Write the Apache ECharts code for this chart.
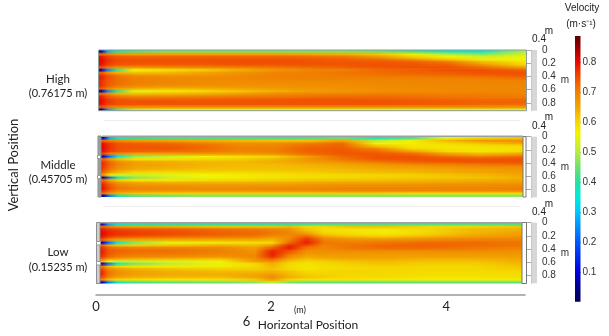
<!DOCTYPE html>
<html><head><meta charset="utf-8">
<style>html,body{margin:0;padding:0;background:#fff}#c{width:609px;height:336px}</style>
<script src="https://cdn.jsdelivr.net/npm/echarts@6/dist/echarts.min.js"></script>
</head><body><div id="c"></div>
<script>
const rowDepths=[.02,.06,.10,.14,.18,.22,.26,.30,.34,.38,.42,.46,.50,.54,.58,.62,.66,.70,.74,.78,.82,.86,.90];
const highStops=[0,.03,.1,.2,.4,.8,1.2,1.6,2,2.4,2.8,3.2,3.6,4,4.4,4.9];
const middleStops=highStops;
const lowStops=[0,.03,.1,.2,.4,.8,1.4,1.8,2,2.2,2.4,2.6,2.9,3.3,3.8,4.3,4.9];
const highRows=[
[.06,.08,.28,.38,.43,.46,.46,.46,.46,.46,.46,.45,.42,.36,.36,.50],
[.70,.72,.70,.67,.66,.66,.66,.66,.66,.65,.64,.62,.57,.50,.47,.53],
[.80,.79,.76,.74,.73,.73,.73,.73,.73,.72,.71,.67,.61,.56,.52,.55],
[.81,.80,.77,.75,.745,.745,.745,.745,.745,.74,.735,.72,.68,.62,.57,.56],
[.81,.80,.77,.75,.745,.745,.745,.75,.75,.745,.74,.74,.735,.71,.63,.58],
[.80,.79,.76,.74,.735,.735,.735,.74,.74,.74,.74,.745,.74,.73,.67,.60],
[.74,.75,.71,.68,.67,.68,.69,.70,.71,.72,.73,.74,.745,.745,.72,.66],
[.03,.08,.24,.40,.56,.59,.61,.64,.67,.69,.70,.72,.73,.745,.745,.73],
[.72,.74,.68,.64,.62,.63,.65,.67,.69,.70,.71,.72,.73,.735,.745,.745],
[.78,.77,.74,.71,.68,.67,.67,.685,.70,.70,.705,.71,.715,.72,.73,.74],
[.79,.78,.75,.72,.70,.69,.69,.69,.695,.70,.70,.70,.70,.70,.705,.72],
[.78,.77,.74,.72,.70,.69,.685,.685,.69,.69,.69,.69,.69,.695,.695,.70],
[.78,.77,.74,.72,.70,.69,.685,.68,.68,.68,.685,.69,.69,.69,.69,.695],
[.78,.77,.74,.71,.69,.68,.675,.675,.675,.68,.68,.685,.69,.69,.69,.69],
[.72,.74,.69,.66,.64,.63,.64,.65,.66,.67,.675,.68,.685,.69,.69,.69],
[.03,.08,.24,.40,.54,.58,.60,.62,.64,.66,.67,.68,.68,.685,.69,.69],
[.70,.72,.68,.64,.62,.63,.64,.66,.68,.69,.695,.70,.70,.70,.70,.695],
[.79,.78,.74,.71,.69,.69,.70,.705,.71,.715,.72,.72,.715,.71,.71,.705],
[.80,.79,.76,.74,.73,.73,.73,.735,.735,.74,.74,.735,.73,.725,.72,.72],
[.81,.80,.77,.75,.745,.745,.745,.745,.745,.745,.745,.745,.74,.735,.73,.73],
[.80,.79,.76,.745,.74,.74,.74,.74,.74,.74,.74,.74,.735,.73,.72,.72],
[.72,.74,.71,.69,.68,.68,.68,.68,.68,.68,.68,.68,.68,.68,.68,.67],
[.05,.08,.26,.42,.50,.53,.53,.53,.53,.53,.53,.53,.53,.53,.53,.53]];
const middleRows=[
[.06,.08,.28,.36,.40,.42,.42,.42,.42,.42,.44,.38,.42,.55,.60,.62],
[.70,.72,.70,.68,.66,.65,.64,.63,.62,.62,.65,.50,.55,.63,.67,.68],
[.80,.79,.76,.74,.73,.72,.70,.68,.68,.70,.72,.56,.57,.60,.62,.65],
[.81,.80,.77,.745,.74,.735,.72,.69,.69,.72,.73,.62,.58,.58,.59,.60],
[.81,.80,.77,.745,.74,.74,.72,.70,.70,.73,.735,.69,.60,.585,.58,.59],
[.80,.79,.76,.74,.73,.72,.71,.69,.70,.73,.74,.72,.66,.60,.58,.60],
[.74,.75,.70,.68,.65,.66,.67,.67,.68,.72,.74,.74,.72,.66,.63,.65],
[.03,.08,.22,.36,.48,.52,.56,.58,.60,.66,.72,.745,.745,.72,.70,.72],
[.70,.72,.66,.62,.58,.58,.60,.61,.63,.67,.71,.74,.745,.745,.74,.745],
[.77,.76,.72,.68,.65,.64,.63,.63,.64,.66,.68,.71,.73,.74,.745,.745],
[.78,.77,.73,.69,.66,.645,.635,.63,.63,.64,.65,.67,.69,.70,.71,.72],
[.78,.76,.72,.68,.65,.64,.63,.625,.625,.63,.64,.65,.66,.67,.68,.68],
[.77,.75,.71,.67,.64,.63,.62,.62,.62,.625,.63,.64,.645,.65,.66,.67],
[.74,.72,.67,.63,.60,.595,.60,.60,.605,.61,.62,.625,.63,.64,.65,.66],
[.66,.66,.58,.53,.52,.54,.56,.575,.585,.595,.60,.605,.61,.62,.63,.65],
[.03,.08,.22,.36,.47,.52,.55,.575,.585,.595,.60,.605,.61,.615,.62,.64],
[.70,.72,.65,.61,.58,.58,.595,.60,.61,.615,.62,.625,.63,.635,.64,.65],
[.77,.76,.71,.67,.65,.64,.64,.64,.64,.645,.65,.65,.65,.655,.66,.665],
[.79,.78,.74,.70,.68,.675,.67,.67,.67,.675,.68,.68,.68,.685,.685,.69],
[.80,.79,.75,.71,.695,.69,.685,.685,.69,.69,.695,.695,.695,.695,.695,.70],
[.78,.77,.73,.69,.68,.675,.675,.675,.68,.685,.69,.69,.69,.69,.69,.69],
[.71,.72,.67,.64,.62,.61,.61,.61,.61,.61,.61,.61,.60,.60,.60,.60],
[.05,.08,.24,.38,.44,.46,.47,.47,.47,.47,.47,.47,.47,.47,.47,.47]];
const lowRows=[
[.06,.08,.26,.34,.38,.39,.39,.39,.39,.40,.41,.42,.42,.42,.42,.42,.42],
[.70,.72,.70,.67,.65,.64,.62,.62,.62,.63,.60,.60,.62,.62,.60,.60,.62],
[.80,.79,.77,.76,.75,.74,.72,.71,.70,.68,.62,.59,.585,.58,.60,.63,.64],
[.81,.80,.78,.77,.76,.75,.73,.72,.71,.69,.64,.60,.585,.57,.60,.63,.65],
[.81,.80,.78,.77,.76,.75,.73,.72,.70,.69,.69,.62,.60,.585,.61,.64,.66],
[.79,.78,.75,.73,.72,.71,.70,.69,.67,.68,.75,.67,.64,.63,.65,.67,.68],
[.72,.73,.68,.65,.64,.64,.64,.64,.63,.70,.775,.70,.68,.68,.69,.70,.70],
[.03,.08,.22,.36,.47,.55,.58,.59,.60,.72,.785,.71,.70,.71,.72,.72,.71],
[.70,.72,.65,.62,.61,.62,.64,.63,.67,.775,.75,.70,.71,.725,.73,.72,.71],
[.78,.77,.73,.71,.70,.70,.69,.66,.73,.785,.71,.69,.71,.72,.72,.71,.70],
[.79,.78,.74,.73,.72,.715,.70,.67,.775,.75,.68,.68,.69,.69,.69,.69,.68],
[.79,.78,.74,.72,.71,.71,.695,.68,.785,.72,.67,.67,.67,.67,.67,.67,.67],
[.78,.77,.73,.71,.70,.695,.68,.69,.78,.69,.65,.66,.66,.66,.66,.66,.66],
[.74,.73,.68,.66,.64,.64,.63,.68,.74,.66,.63,.64,.65,.65,.64,.64,.65],
[.62,.64,.56,.52,.52,.54,.57,.66,.68,.62,.60,.61,.62,.63,.62,.62,.64],
[.03,.08,.22,.36,.46,.50,.55,.60,.64,.60,.585,.60,.61,.62,.61,.61,.63],
[.68,.70,.63,.60,.58,.57,.575,.60,.63,.595,.58,.59,.60,.605,.60,.60,.62],
[.76,.75,.69,.66,.64,.625,.61,.61,.62,.60,.585,.59,.60,.60,.60,.60,.61],
[.78,.77,.71,.68,.655,.64,.63,.63,.64,.62,.60,.60,.605,.60,.595,.595,.60],
[.78,.77,.71,.68,.655,.645,.64,.65,.665,.63,.61,.605,.60,.60,.59,.59,.595],
[.76,.75,.69,.66,.64,.63,.63,.65,.68,.64,.62,.61,.60,.595,.585,.585,.59],
[.68,.68,.62,.60,.59,.58,.58,.61,.66,.60,.585,.58,.58,.575,.57,.57,.57],
[.05,.08,.24,.38,.42,.44,.45,.47,.52,.46,.44,.44,.44,.44,.44,.44,.44]];
const colourValues=[0,.05,.1,.2,.3,.35,.4,.45,.5,.56,.6,.65,.7,.75,.8,.84,.886];
const colourHex=['#00005a','#00008c','#0000e0','#0058ff','#00c8ff','#00eadc','#28e0a0','#70e070','#b8ec40','#f4f400','#f4d800','#f2a400','#f08000','#f04c00','#e80a00','#a80000','#5a0000'];
const colourTicks=[.1,.2,.3,.4,.5,.6,.7,.8];
const depthTicks=[0,.2,.4,.6,.8];
const horizontalTicks=[0,2,4];
const panelNames=['High','Middle','Low'];
const panelHeights=['(0.76175 m)','(0.45705 m)','(0.15235 m)'];

const SANS='Lato, "Open Sans", sans-serif', ARIAL='"Liberation Sans", Arial, sans-serif';
const XMAX=4.9, YMAX=.92;
function velocityColour(v){
  if(v<=colourValues[0])return colourHex[0];
  for(let i=1;i<colourValues.length;i++){
    if(v<=colourValues[i]){
      const t=(v-colourValues[i-1])/(colourValues[i]-colourValues[i-1]);
      return echarts.color.lerp(t,[colourHex[i-1],colourHex[i]]);
    }
  }
  return colourHex[colourHex.length-1];
}
const panels=[
 {rows:highRows,stops:highStops,l:99,r:526.5,t:50,b:110.7},
 {rows:middleRows,stops:middleStops,l:101,r:523,t:136.5,b:197},
 {rows:lowRows,stops:lowStops,l:100,r:522,t:222.5,b:283.5}];
const scaleTops=[50,136.7,222.6];

const grid=[],xAxis=[],yAxis=[],series=[];
panels.forEach((p,i)=>{
  grid.push({left:p.l,top:p.t,width:p.r-p.l,height:p.b-p.t,show:false});
  xAxis.push({type:'value',gridIndex:i,min:0,max:XMAX,show:false});
  yAxis.push({type:'value',gridIndex:i,min:0,max:YMAX,inverse:true,show:false});
  const half=.02;
  const fieldSeries=(shift,alpha)=>({type:'custom',xAxisIndex:i,yAxisIndex:i,animation:false,clip:true,silent:true,
    encode:{y:0},
    data:p.rows.map((vals,r)=>[rowDepths[r],...vals]),
    renderItem(params,api){
      const d=api.value(0)+shift;
      const a=api.coord([0,d-half]), b=api.coord([XMAX,d+half]);
      const stops=p.stops.map((x,k)=>({offset:x/XMAX,color:velocityColour(api.value(k+1))}));
      return {type:'rect',shape:{x:a[0],y:a[1],width:b[0]-a[0],height:b[1]-a[1]+(alpha<1?0:.7)},
        style:{opacity:alpha,fill:new echarts.graphic.LinearGradient(0,0,1,0,stops)}};
    }});
  series.push(fieldSeries(-.005,1),fieldSeries(.015,.5));
});
scaleTops.forEach((top,i)=>{
  const g=grid.length;
  grid.push({left:531,top:top,width:6,height:YMAX*66,show:true,backgroundColor:'#d6d6d6',borderWidth:0});
  xAxis.push({type:'value',gridIndex:g,min:0,max:1,show:false});
  yAxis.push({type:'value',gridIndex:g,position:'right',min:0,max:YMAX,inverse:true,interval:.2,
    name:'m',nameLocation:'middle',nameGap:20,nameRotate:0,
    nameTextStyle:{fontFamily:ARIAL,fontSize:10,color:'#333'},
    axisLine:{show:true,lineStyle:{color:'#c8c8c8'}},
    axisTick:{show:true,inside:true,length:5,lineStyle:{color:'#a8a8a8'},customValues:depthTicks},
    axisLabel:{color:'#333',fontFamily:ARIAL,fontSize:10,margin:5,customValues:depthTicks},
    splitLine:{show:false}});
});
{ // bottom horizontal axis
  const g=grid.length;
  grid.push({left:96,top:294,width:429,height:1,show:false});
  xAxis.push({type:'value',gridIndex:g,min:0,max:XMAX,interval:2,
    axisLine:{show:true,lineStyle:{color:'#999',width:1.5}},axisTick:{show:false},splitLine:{show:false},
    axisLabel:{color:'#222',fontFamily:SANS,fontSize:13,margin:5,customValues:horizontalTicks}});
  yAxis.push({type:'value',gridIndex:g,min:0,max:1,show:false});
}
{ // colour bar
  const g=grid.length;
  grid.push({left:575,top:36,width:5.5,height:.886*300,show:false});
  xAxis.push({type:'category',gridIndex:g,data:['Velocity'],show:false});
  yAxis.push({type:'value',gridIndex:g,position:'right',min:0,max:.886,interval:.1,
    axisLine:{show:false},splitLine:{show:false},
    axisTick:{show:true,inside:true,length:1.5,lineStyle:{color:'#333'},customValues:colourTicks},
    axisLabel:{color:'#333',fontFamily:ARIAL,fontSize:10,margin:2,customValues:colourTicks}});
  series.push({type:'bar',xAxisIndex:g,yAxisIndex:g,barWidth:'100%',animation:false,silent:true,
    data:[colourValues[colourValues.length-1]],
    itemStyle:{color:new echarts.graphic.LinearGradient(0,1,0,0,
      colourValues.map((v,k)=>({offset:v/.886,color:colourHex[k]})))}});
}
function label(text,x,y,size,font,extra){
  return Object.assign({type:'text',x:x,y:y,silent:true,z:10,
    style:Object.assign({text:text,fill:'#222',font:size+'px '+font,textAlign:'center',textVerticalAlign:'middle'},extra||{})});
}
function box(x,y,w,h,fill,stroke){
  return {type:'rect',silent:true,z:9,shape:{x,y,width:w,height:h},style:{fill:fill,stroke:stroke,lineWidth:1}};
}
function rule(x1,x2,y,col){
  return {type:'line',silent:true,z:9,shape:{x1,y1:y,x2,y2:y},style:{stroke:col,lineWidth:1}};
}
const elements=[
  // frames
  box(98.5,50,428,60.7,'none','#8f9a9a'),
  box(98,136,3,61,'#a0a0a0','#8c8c8c'),
  box(523,136.5,3,60.5,'#fff','#777'),
  box(102,136,421,.5,'none','#9aa2a2'),
  box(96.5,222.5,3.5,61,'#cfcfcf','#8c8c8c'),
  box(522,222.5,4.5,61,'#fff','#777'),
  box(100,222.5,422,.5,'none','#9aa2a2'),
  box(97.5,155.5,3,3,'#fff','#999'),box(97.5,175.5,3,3,'#fff','#999'),
  box(96.5,241.5,4,3.5,'#fff','#999'),box(96.5,261.5,4,3.5,'#fff','#999'),
  rule(104,520,120.5,'#ececec'),rule(103,520,206.5,'#efefef'),
  // panel names
  label(panelNames[0],58,79,11.5,SANS),label(panelHeights[0],58,93,11,SANS),
  label(panelNames[1],58,165,11.5,SANS),label(panelHeights[1],58,179,11,SANS),
  label(panelNames[2],58,252,11.5,SANS),label(panelHeights[2],58,267,11,SANS),
  // scale headers
  label('0.4',539,39,10,ARIAL),label('m',549,31,10,ARIAL),
  label('0.4',539,126,10,ARIAL),label('m',549,117,10,ARIAL),
  label('0.4',539,212,10,ARIAL),label('m',549,204,10,ARIAL),
  // titles
  Object.assign(label('Vertical Position',14,165,13,SANS),{rotation:Math.PI/2}),
  label('Velocity',582,8.5,10,ARIAL),label('(m·s⁻¹)',581,24,10,ARIAL),
  label('(m)',300,310,9,SANS),label('6',246.5,322,13,SANS),
  label('Horizontal Position',308,325,12,SANS)
];
const chart=echarts.init(document.getElementById('c'),null,{renderer:'canvas'});
chart.setOption({animation:false,backgroundColor:'#fff',grid,xAxis,yAxis,series,graphic:{elements}});
</script></body></html>
